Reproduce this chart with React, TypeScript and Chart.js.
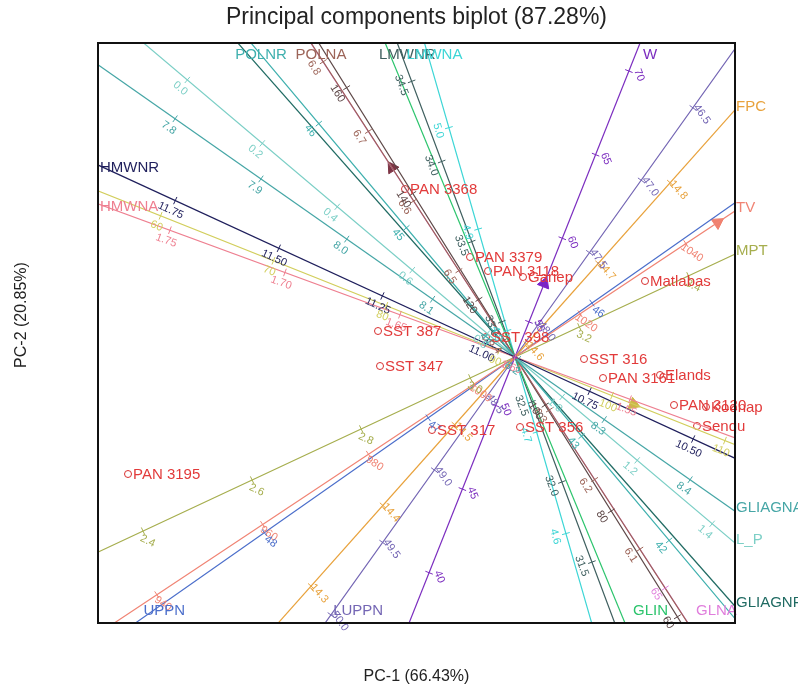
import React, { useEffect, useRef } from 'react';
import { Chart, registerables } from 'chart.js';

Chart.register(...registerables);

const FONT = '"Liberation Sans", Arial, Helvetica, sans-serif';

// ---- Genotype scores (PC-1, PC-2) ----
const genotypes = ['PAN 3368', 'PAN 3379', 'PAN 3118', 'Gariep', 'Matlabas', 'SST 387', 'SST 398', 'SST 347', 'SST 316', 'PAN 3161', 'Elands', 'PAN 3120', 'Koonap', 'Senqu', 'SST 317', 'SST 356', 'PAN 3195'];
const pc1 = [-1.10, -0.45, -0.27, 0.08, 1.30, -1.37, -0.29, -1.35, 0.69, 0.88, 1.45, 1.59, 1.91, 1.82, -0.83, 0.05, -3.87];
const pc2 = [1.68, 1.00, 0.86, 0.80, 0.76, 0.26, 0.20, -0.09, -0.02, -0.21, -0.18, -0.48, -0.50, -0.69, -0.73, -0.70, -1.17];

// ---- Variable biplot axes ----
const varLabels = ['W', 'FPC', 'LUPPN', 'TV', 'UPPN', 'MPT', 'HMWNR', 'HMWNA', '', 'GLIAGNA', 'L_P', 'POLNR', 'GLIAGNR', 'POLNA', '', 'GLNA', 'GLIN', 'LMWNR', 'LMWNA'];
const varColors = ['#7B2CBF', '#E8A23C', '#7466B4', '#F08474', '#4C6FCB', '#A6AE4E', '#1F1F5C', '#EE7F90', '#D2CE5C', '#46A6A6', '#7CCFC6', '#3FB0AE', '#1F6A62', '#9C6458', '#5C4646', '#E07EDC', '#2BC46C', '#3F5F5F', '#3ED6D6'];
// unit direction of each axis (towards increasing values / label end)
const loadX = [0.370, 0.665, -0.581, 0.833, -0.819, 0.906, -0.908, -0.939, 0.929, 0.819, 0.764, -0.644, 0.662, -0.545, -0.530, 0.545, 0.382, -0.351, -0.277];
const loadY = [0.929, 0.747, -0.814, 0.553, -0.574, 0.424, 0.418, 0.345, -0.370, -0.574, -0.646, 0.766, -0.750, 0.839, 0.848, -0.838, -0.924, 0.936, 0.961];
// calibration: value at the origin, and PC length of one unit of the variable
const varMeans = [52.9, 14.584, 48.22, 1007.7, 46.47, 3.082, 10.93, 1.60, 91.4, 8.196, 0.874, 43.76, 0, 6.376, 109.1, 50, 0, 32.78, 4.774];
const varUnitLen = [0.18, 10.8, 1.78, 0.0635, 2.0, 6.02, 4.563, 24.5, 0.1215, 10.48, 4.907, 1.36, 1, 8.30, 0.0624, 0.1838, 1, 1.712, 10.56];
const varTicks = [
  [40, 45, 50, 55, 60, 65, 70],
  [14.3, 14.4, 14.5, 14.6, 14.7, 14.8],
  [46.5, 47.0, 47.5, 48.0, 48.5, 49.0, 49.5, 50.0],
  [940, 960, 980, 1000, 1020, 1040],
  [46, 47, 48],
  [2.4, 2.6, 2.8, 3.0, 3.2, 3.4],
  [10.5, 10.75, 11.0, 11.25, 11.5, 11.75],
  [1.55, 1.6, 1.65, 1.7, 1.75],
  [60, 70, 80, 90, 100, 110],
  [7.8, 7.9, 8.0, 8.1, 8.2, 8.3, 8.4],
  [0.0, 0.2, 0.4, 0.6, 0.8, 1.0, 1.2, 1.4],
  [42, 43, 44, 45, 46],
  [],
  [6.1, 6.2, 6.3, 6.4, 6.5, 6.6, 6.7, 6.8],
  [60, 80, 100, 120, 140, 160],
  [65],
  [],
  [31.5, 32.0, 32.5, 33.0, 33.5, 34.0, 34.5],
  [4.6, 4.7, 4.8, 4.9, 5.0],
];
const varDecimals = [0, 1, 1, 0, 0, 1, 2, 2, 0, 1, 1, 0, 0, 1, 0, 0, 0, 1, 1];

// ---- Direction arrows on some axes ----
const arrowVars = [0, 13, 3, 8];
const arrowValues = [57.3, 6.648, 1046, 101.9];
const arrowColors = ['#7B22C8', '#7D3545', '#F0806E', '#CDB648'];

const X_MIN = -4.17, X_MAX = 2.20, Y_MIN = -2.66, Y_MAX = 3.14;

function axisPoint(i: number, v: number) {
  const t = (v - varMeans[i]) * varUnitLen[i];
  return { x: t * loadX[i], y: t * loadY[i] };
}

const decor = {
  id: 'biplotDecor',
  afterDatasetsDraw(chart: any) {
    const { ctx, chartArea: a, scales } = chart;
    const xs = scales.x, ys = scales.y;
    const ox = xs.getPixelForValue(0), oy = ys.getPixelForValue(0);
    ctx.save();
    for (let i = 0; i < varLabels.length; i++) {
      const color = varColors[i];
      const p1x = xs.getPixelForValue(loadX[i]), p1y = ys.getPixelForValue(loadY[i]);
      let dx = p1x - ox, dy = p1y - oy;
      const L = Math.hypot(dx, dy);
      dx /= L; dy /= L;
      let ux = dx, uy = dy;
      if (ux < 0) { ux = -ux; uy = -uy; }
      const nx = -uy, ny = ux;
      const ang = Math.atan2(Math.abs(uy), ux);
      ctx.strokeStyle = color;
      ctx.fillStyle = color;
      ctx.lineWidth = 1;
      ctx.font = `11px ${FONT}`;
      for (const v of varTicks[i]) {
        const p = axisPoint(i, v);
        const px = xs.getPixelForValue(p.x), py = ys.getPixelForValue(p.y);
        if (px < a.left || px > a.right || py < a.top || py > a.bottom) continue;
        ctx.beginPath();
        ctx.moveTo(px - nx * 4, py - ny * 4);
        ctx.lineTo(px + nx * 4, py + ny * 4);
        ctx.stroke();
        ctx.save();
        ctx.translate(px + nx * 11, py + ny * 11);
        ctx.rotate(ang);
        ctx.textAlign = 'center';
        ctx.textBaseline = 'middle';
        ctx.fillText(v.toFixed(varDecimals[i]), 0, 0);
        ctx.restore();
      }
      // label at the axis end
      if (varLabels[i]) {
        let tBest = Infinity, edge = '';
        if (dx > 1e-9) { const t = (a.right - ox) / dx; if (t < tBest) { tBest = t; edge = 'right'; } }
        if (dx < -1e-9) { const t = (a.left - ox) / dx; if (t < tBest) { tBest = t; edge = 'left'; } }
        if (dy > 1e-9) { const t = (a.bottom - oy) / dy; if (t < tBest) { tBest = t; edge = 'bottom'; } }
        if (dy < -1e-9) { const t = (a.top - oy) / dy; if (t < tBest) { tBest = t; edge = 'top'; } }
        const ex = ox + dx * tBest, ey = oy + dy * tBest;
        ctx.font = `15px ${FONT}`;
        ctx.textBaseline = 'middle';
        if (edge === 'top') { ctx.textAlign = 'center'; ctx.fillText(varLabels[i], ex + 10, a.top + 12); }
        else if (edge === 'right') { ctx.textAlign = 'left'; ctx.fillText(varLabels[i], a.right + 1, ey - 3); }
        else if (edge === 'left') { ctx.textAlign = 'left'; ctx.fillText(varLabels[i], a.left + 2, ey + 3); }
        else { ctx.textAlign = 'left'; ctx.fillText(varLabels[i], ex + 8, a.bottom - 12); }
      }
    }
    // genotype labels
    ctx.font = `15px ${FONT}`;
    ctx.fillStyle = '#E23A3A';
    ctx.textAlign = 'left';
    ctx.textBaseline = 'middle';
    for (let k = 0; k < genotypes.length; k++) {
      const px = xs.getPixelForValue(pc1[k]), py = ys.getPixelForValue(pc2[k]);
      ctx.fillText(genotypes[k], px + 5, py + 1);
    }
    // frame
    ctx.strokeStyle = '#111';
    ctx.lineWidth = 2;
    ctx.strokeRect(a.left, a.top, a.right - a.left, a.bottom - a.top);
    // axis titles
    ctx.fillStyle = '#222';
    ctx.font = `16px ${FONT}`;
    ctx.textAlign = 'center';
    ctx.textBaseline = 'middle';
    ctx.fillText('PC-1 (66.43%)', (a.left + a.right) / 2, a.bottom + 54);
    ctx.save();
    ctx.translate(22, a.top + 272);
    ctx.rotate(-Math.PI / 2);
    ctx.fillText('PC-2 (20.85%)', 0, 0);
    ctx.restore();
    ctx.restore();
  },
};

export default function App() {
  const ref = useRef<HTMLCanvasElement>(null);
  useEffect(() => {
    if (!ref.current) return;
    const datasets: any[] = [];
    for (let i = 0; i < varLabels.length; i++) {
      const far = 12;
      datasets.push({
        type: 'scatter',
        label: varLabels[i] || `axis${i}`,
        data: [
          { x: -far * loadX[i], y: -far * loadY[i] },
          { x: 0, y: 0 },
          { x: far * loadX[i], y: far * loadY[i] },
        ],
        showLine: true,
        borderColor: varColors[i],
        backgroundColor: varColors[i],
        borderWidth: 1.2,
        pointRadius: [0, 3, 0],
        pointStyle: 'triangle',
        pointBorderWidth: 0,
      });
    }
    const arrowPts = arrowVars.map((vi, k) => axisPoint(vi, arrowValues[k]));
    datasets.push({
      type: 'scatter',
      label: 'arrows',
      data: arrowPts,
      pointStyle: 'triangle',
      pointRadius: 7,
      rotation: arrowVars.map((vi) => (Math.atan2(loadX[vi], loadY[vi]) * 180) / Math.PI),
      backgroundColor: arrowColors,
      borderColor: arrowColors,
      borderWidth: 1,
    });
    datasets.push({
      type: 'scatter',
      label: 'genotypes',
      data: pc1.map((x, k) => ({ x, y: pc2[k] })),
      pointStyle: 'circle',
      pointRadius: 3.5,
      borderColor: '#D83030',
      backgroundColor: 'rgba(255,255,255,0)',
      borderWidth: 1,
    });
    const chart = new Chart(ref.current, {
      type: 'scatter',
      data: { datasets },
      options: {
        responsive: false,
        animation: false,
        devicePixelRatio: 1,
        layout: { padding: { left: 98, right: 63, top: 0, bottom: 68 } },
        scales: {
          x: { type: 'linear', min: X_MIN, max: X_MAX, display: false },
          y: { type: 'linear', min: Y_MIN, max: Y_MAX, display: false },
        },
        plugins: {
          legend: { display: false },
          tooltip: { enabled: false },
          title: {
            display: true,
            text: 'Principal components biplot (87.28%)',
            color: '#222',
            font: { family: FONT, size: 23, weight: 'normal' },
            padding: { top: 4, bottom: 11.4 },
          },
        },
      },
      plugins: [decor],
    } as any);
    return () => chart.destroy();
  }, []);
  return (
    <div style={{ position: 'absolute', left: 0, top: 0, width: 798, height: 691, background: '#fff' }}>
      <canvas ref={ref} width={798} height={691} style={{ display: 'block' }} />
    </div>
  );
}
